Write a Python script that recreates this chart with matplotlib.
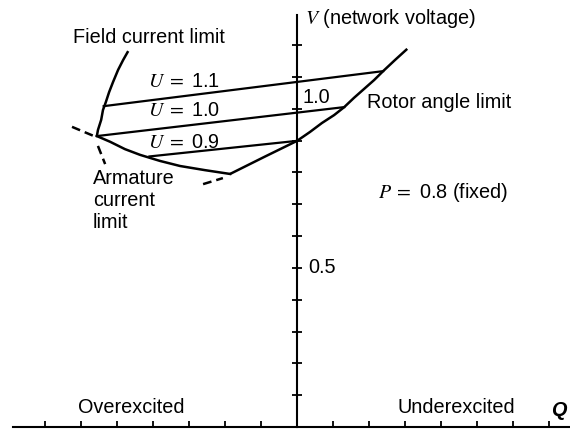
import matplotlib
matplotlib.use("Agg")
import matplotlib.pyplot as plt
import numpy as np

plt.rcParams["font.family"] = ["Liberation Sans", "DejaVu Sans"]
plt.rcParams["mathtext.fontset"] = "stix"

# operating limits, Q (reactive power) vs V (network voltage), P = 0.8
field_q = [-0.469, -0.483, -0.497, -0.511, -0.522, -0.531, -0.539, -0.544, -0.553, -0.556]
field_v = [1.181, 1.153, 1.122, 1.084, 1.052, 1.021, 0.996, 0.965, 0.933, 0.914]

armature_q = [-0.556, -0.519, -0.478, -0.436, -0.381, -0.325, -0.256, -0.186]
armature_v = [0.914, 0.896, 0.873, 0.855, 0.836, 0.820, 0.807, 0.795]

rotor_q = [-0.186, -0.092, 0.0, 0.036, 0.069, 0.103, 0.131, 0.158, 0.186,
           0.214, 0.239, 0.272, 0.306]
rotor_v = [0.795, 0.848, 0.899, 0.927, 0.955, 0.980, 1.005, 1.034, 1.062,
           1.090, 1.118, 1.153, 1.188]

# constant generator voltage lines (start/end Q, start/end V)
u_labels = ["1.1", "1.0", "0.9"]
u_lines = {
    "1.1": ([-0.537, 0.239], [1.008, 1.118]),
    "1.0": ([-0.556, 0.131], [0.914, 1.005]),
    "0.9": ([-0.410, 0.0], [0.850, 0.899]),
}
u_label_v = [1.084, 0.993, 0.895]

# dashed continuations of the limits beyond the corners
field_ext = ([-0.553, -0.533], [0.883, 0.826])
armature_ext = ([-0.625, -0.564], [0.943, 0.914])
rotor_ext = ([-0.261, -0.206], [0.763, 0.782])

q_ticks = [-0.7, -0.6, -0.5, -0.4, -0.3, -0.2, -0.1, 0.1, 0.2, 0.3, 0.4, 0.5, 0.6, 0.7]
v_ticks = np.round(np.arange(0.1, 1.25, 0.1), 1)

fig = plt.figure(figsize=(5.7, 4.3), dpi=100)
ax = fig.add_axes([0, 0, 1, 1])
ax.set_xlim(-0.825, 0.758)
ax.set_ylim(-0.0094, 1.3415)

# axes through the origin
for side in ["top", "right"]:
    ax.spines[side].set_visible(False)
ax.spines["left"].set_position(("data", 0))
ax.spines["bottom"].set_position(("data", 0))
ax.spines["left"].set_bounds(0, 1.294)
ax.spines["bottom"].set_bounds(-0.789, 0.758)
for side in ["left", "bottom"]:
    ax.spines[side].set_linewidth(1.5)
ax.set_xticks(q_ticks)
ax.set_yticks(v_ticks)
ax.tick_params(axis="y", direction="inout", length=7, width=1.3, labelleft=False)
ax.tick_params(axis="x", direction="in", length=4, width=1.3, labelbottom=False)

lw = 1.8
ax.plot(field_q, field_v, color="black", lw=lw, solid_capstyle="butt",
        solid_joinstyle="round")
ax.plot(armature_q, armature_v, color="black", lw=lw, solid_joinstyle="round")
ax.plot(rotor_q, rotor_v, color="black", lw=lw, solid_capstyle="butt",
        solid_joinstyle="round")
for key in u_labels:
    qs, vs = u_lines[key]
    ax.plot(qs, vs, color="black", lw=1.6)

for qs, vs in [field_ext, armature_ext, rotor_ext]:
    ax.plot(qs, vs, color="black", lw=lw, dashes=(3.5, 2))

fs = 14.3
for key, v in zip(u_labels, u_label_v):
    ax.text(-0.414, v, r"$U\;=$ " + key, fontsize=fs, ha="left", va="center")

ax.text(-0.622, 1.225, "Field current limit", fontsize=fs, ha="left", va="center")
ax.text(0.022, 1.282, "$V$ (network voltage)", fontsize=fs, ha="left", va="center")
ax.text(0.014, 1.034, "1.0", fontsize=fs, ha="left", va="center")
ax.text(0.031, 0.5, "0.5", fontsize=fs, ha="left", va="center")
ax.text(0.194, 1.021, "Rotor angle limit", fontsize=fs, ha="left", va="center")
ax.text(0.225, 0.738, r"$P\;=$ 0.8 (fixed)", fontsize=fs, ha="left", va="center")
ax.text(-0.567, 0.711, "Armature\ncurrent\nlimit", fontsize=fs, ha="left",
        va="center", linespacing=1.22)
ax.text(-0.608, 0.06, "Overexcited", fontsize=fs, ha="left", va="center")
ax.text(0.278, 0.06, "Underexcited", fontsize=fs, ha="left", va="center")
ax.text(0.706, 0.053, "Q", fontsize=fs, fontweight="bold", style="italic",
        ha="left", va="center")

fig.savefig("out.png", dpi=100)
